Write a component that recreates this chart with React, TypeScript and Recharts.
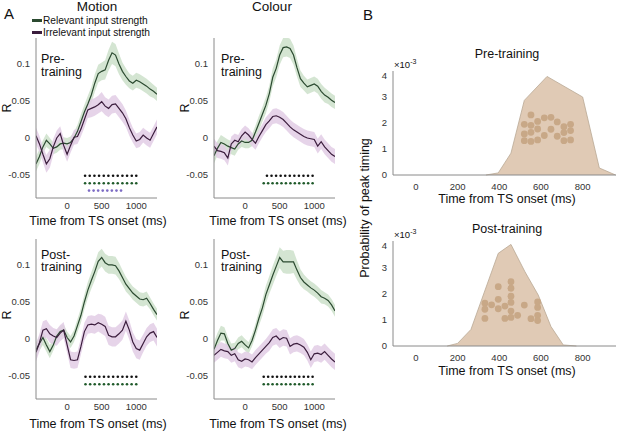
import React from 'react';
import { ComposedChart, Line, Area, Scatter, XAxis, YAxis } from 'recharts';

// time axis shared by the four correlation panels (ms from TS onset)
const times = [-450, -400, -350, -300, -250, -200, -150, -100, -50, 0, 50, 100, 150, 200, 250, 300, 350, 400, 450, 500, 550, 600, 650, 700, 750, 800, 850, 900, 950, 1000, 1050, 1100, 1150, 1200, 1250, 1300];

const motionPreRel = [-0.035, -0.025, -0.012, -0.003, -0.008, -0.014, -0.012, -0.008, -0.007, -0.008, -0.006, 0.0, 0.009, 0.022, 0.035, 0.046, 0.058, 0.074, 0.087, 0.09, 0.092, 0.105, 0.115, 0.112, 0.1, 0.09, 0.083, 0.077, 0.074, 0.078, 0.076, 0.073, 0.07, 0.066, 0.063, 0.059];
const motionPreRelSem = [0.01, 0.01, 0.009, 0.009, 0.008, 0.008, 0.008, 0.008, 0.008, 0.008, 0.008, 0.008, 0.009, 0.01, 0.01, 0.011, 0.011, 0.012, 0.012, 0.012, 0.013, 0.014, 0.015, 0.015, 0.014, 0.012, 0.011, 0.01, 0.01, 0.01, 0.01, 0.01, 0.01, 0.01, 0.009, 0.009];
const motionPreIrr = [0.003, -0.008, -0.022, -0.035, -0.028, -0.012, 0.0, 0.006, -0.01, -0.022, -0.01, 0.001, 0.002, 0.012, 0.025, 0.038, 0.04, 0.042, 0.045, 0.049, 0.043, 0.04, 0.045, 0.046, 0.04, 0.034, 0.026, 0.014, 0.004, -0.004, -0.002, 0.004, 0.0, -0.003, 0.006, 0.015];
const motionPreIrrSem = [0.011, 0.011, 0.011, 0.012, 0.012, 0.011, 0.01, 0.01, 0.01, 0.01, 0.01, 0.01, 0.01, 0.01, 0.011, 0.011, 0.012, 0.012, 0.012, 0.013, 0.012, 0.012, 0.012, 0.012, 0.012, 0.012, 0.011, 0.011, 0.01, 0.01, 0.01, 0.01, 0.01, 0.01, 0.01, 0.01];

const colourPreRel = [-0.024, -0.014, -0.006, -0.008, -0.011, -0.013, -0.015, -0.008, -0.004, -0.006, -0.006, -0.003, 0.008, 0.02, 0.032, 0.044, 0.06, 0.082, 0.094, 0.112, 0.122, 0.123, 0.121, 0.112, 0.095, 0.08, 0.074, 0.069, 0.071, 0.073, 0.07, 0.063, 0.058, 0.055, 0.051, 0.048];
const colourPreRelSem = [0.01, 0.01, 0.01, 0.009, 0.009, 0.009, 0.009, 0.008, 0.008, 0.008, 0.008, 0.008, 0.009, 0.01, 0.01, 0.011, 0.011, 0.012, 0.012, 0.013, 0.013, 0.013, 0.013, 0.013, 0.012, 0.011, 0.01, 0.01, 0.01, 0.01, 0.01, 0.01, 0.01, 0.009, 0.009, 0.009];
const colourPreIrr = [-0.011, -0.017, -0.018, -0.02, -0.027, -0.008, -0.003, -0.005, 0.003, 0.008, 0.004, -0.002, -0.007, 0.002, 0.01, 0.018, 0.023, 0.029, 0.03, 0.028, 0.025, 0.02, 0.015, 0.011, 0.008, 0.005, 0.002, 0.0, -0.001, -0.002, -0.011, -0.005, -0.012, -0.017, -0.022, -0.025];
const colourPreIrrSem = [0.01, 0.01, 0.01, 0.01, 0.01, 0.01, 0.009, 0.009, 0.009, 0.009, 0.009, 0.009, 0.009, 0.009, 0.009, 0.01, 0.01, 0.01, 0.01, 0.01, 0.01, 0.01, 0.01, 0.01, 0.01, 0.01, 0.01, 0.01, 0.01, 0.01, 0.01, 0.01, 0.01, 0.01, 0.01, 0.01];

const motionPostRel = [-0.015, -0.006, 0.002, -0.008, -0.017, -0.008, 0.004, 0.01, 0.012, 0.002, -0.004, 0.004, 0.018, 0.032, 0.05, 0.066, 0.079, 0.091, 0.105, 0.11, 0.103, 0.1, 0.1, 0.099, 0.092, 0.083, 0.074, 0.068, 0.062, 0.058, 0.054, 0.053, 0.055, 0.048, 0.04, 0.033];
const motionPostRelSem = [0.01, 0.01, 0.01, 0.009, 0.009, 0.008, 0.008, 0.008, 0.008, 0.008, 0.008, 0.008, 0.009, 0.01, 0.01, 0.011, 0.011, 0.012, 0.012, 0.012, 0.012, 0.012, 0.012, 0.012, 0.011, 0.01, 0.01, 0.009, 0.009, 0.009, 0.009, 0.009, 0.009, 0.008, 0.008, 0.008];
const motionPostIrr = [-0.018, -0.005, 0.012, 0.014, 0.007, 0.004, 0.002, 0.008, 0.012, -0.008, -0.028, -0.029, -0.028, -0.01, 0.01, 0.019, 0.02, 0.019, 0.022, 0.02, 0.017, 0.005, 0.003, 0.003, 0.007, 0.012, 0.024, 0.012, -0.004, -0.013, -0.015, -0.006, 0.003, 0.008, 0.01, 0.002];
const motionPostIrrSem = [0.012, 0.012, 0.012, 0.012, 0.012, 0.011, 0.011, 0.011, 0.011, 0.011, 0.011, 0.011, 0.011, 0.011, 0.012, 0.012, 0.012, 0.012, 0.012, 0.013, 0.013, 0.013, 0.013, 0.013, 0.013, 0.013, 0.013, 0.013, 0.013, 0.013, 0.013, 0.012, 0.012, 0.012, 0.012, 0.012];

const colourPostRel = [-0.014, -0.002, 0.008, 0.007, -0.006, -0.015, -0.013, -0.006, -0.003, -0.008, -0.012, -0.002, 0.012, 0.028, 0.042, 0.06, 0.073, 0.086, 0.098, 0.11, 0.104, 0.104, 0.104, 0.104, 0.093, 0.083, 0.077, 0.073, 0.069, 0.066, 0.062, 0.057, 0.055, 0.052, 0.046, 0.038];
const colourPostRelSem = [0.01, 0.01, 0.01, 0.009, 0.009, 0.009, 0.008, 0.008, 0.008, 0.008, 0.008, 0.008, 0.009, 0.01, 0.011, 0.012, 0.012, 0.013, 0.013, 0.014, 0.015, 0.016, 0.016, 0.015, 0.013, 0.011, 0.01, 0.009, 0.009, 0.009, 0.009, 0.009, 0.008, 0.008, 0.008, 0.008];
const colourPostIrr = [-0.022, -0.018, -0.014, -0.016, -0.017, -0.022, -0.02, -0.028, -0.03, -0.027, -0.028, -0.031, -0.025, -0.02, -0.015, -0.01, -0.005, 0.002, 0.004, -0.001, 0.002, 0.001, -0.01, -0.007, -0.006, -0.008, -0.011, -0.018, -0.028, -0.02, -0.019, -0.021, -0.017, -0.022, -0.027, -0.031];
const colourPostIrrSem = [0.01, 0.01, 0.01, 0.01, 0.01, 0.01, 0.01, 0.01, 0.01, 0.01, 0.01, 0.01, 0.01, 0.01, 0.01, 0.01, 0.011, 0.011, 0.011, 0.011, 0.011, 0.011, 0.011, 0.011, 0.011, 0.011, 0.011, 0.011, 0.011, 0.011, 0.011, 0.011, 0.011, 0.011, 0.011, 0.011];

// significant time points (ms)
const motionPreSigBoth = [260, 327, 395, 462, 530, 597, 665, 732, 800, 867, 935, 1000];
const motionPreSigRel = [260, 327, 395, 462, 530, 597, 665, 732, 800, 867, 935, 1000];
const motionPreSigIrr = [317, 383, 449, 515, 581, 647, 714, 780];
const colourPreSigBoth = [316, 382, 448, 514, 580, 646, 712, 778, 844, 910, 976];
const colourPreSigRel = [269, 333, 397, 462, 526, 590, 655, 719, 783, 848, 912, 976];
const motionPostSigBoth = [266, 333, 399, 466, 533, 599, 666, 733, 800, 866, 933, 1000];
const motionPostSigRel = [266, 333, 399, 466, 533, 599, 666, 733, 800, 866, 933, 1000];
const colourPostSigBoth = [269, 333, 397, 462, 526, 590, 655, 719, 783, 848, 912, 976];
const colourPostSigRel = [269, 333, 397, 462, 526, 590, 655, 719, 783, 848, 912, 976];

// panel B: peak timing density (x10^-3) and individual peaks
const preDensityT = [336, 395, 456, 520, 629, 800, 880, 958];
const preDensityV = [0, 0.08, 0.84, 2.87, 3.79, 3.0, 0.27, 0];
const prePeakT = [520, 520, 520, 552, 552, 552, 552, 584, 584, 584, 616, 616, 648, 648, 678, 678, 710, 710, 710, 742, 742, 742];
const prePeakV = [1.95, 1.58, 1.32, 2.31, 1.91, 1.64, 1.29, 2.06, 1.77, 1.35, 2.2, 1.52, 2.22, 1.76, 2.04, 1.49, 1.86, 1.63, 1.32, 1.95, 1.71, 1.35];

const postDensityT = [150, 200, 264, 395, 456, 523, 587, 648, 707, 770];
const postDensityV = [0, 0.1, 0.63, 3.53, 3.87, 2.83, 1.94, 0.74, 0.04, 0];
const postPeakT = [331, 331, 331, 363, 395, 395, 395, 427, 427, 456, 456, 456, 456, 456, 456, 488, 520, 552, 584, 584, 584, 584];
const postPeakV = [1.63, 1.4, 1.05, 1.57, 2.26, 1.78, 1.42, 1.52, 1.05, 2.45, 2.2, 1.9, 1.66, 1.33, 1.09, 1.17, 1.56, 1.04, 1.68, 1.47, 1.17, 0.97];

const aYTicks = [-0.05, 0, 0.05, 0.1];
const aXTicks = [0, 500, 1000];
const bYTicks = [0, 1, 2, 3, 4];
const bXTicks = [0, 200, 400, 600, 800];

const GREEN = '#2b4a30';
const GREEN_BAND = '#cde0ca';
const PURPLE = '#3b1d3d';
const PURPLE_BAND = '#e2cde5';
const AXIS = '#8a8a8a';
const TICK = { fontSize: 9.5, fill: '#333' };

const sigDot = (fill: string) => (p: any) => <circle cx={p.cx} cy={p.cy} r={1.3} fill={fill} />;

type TraceProps = {
  left: number;
  top: number;
  rel: number[];
  relSem: number[];
  irr: number[];
  irrSem: number[];
  sigBoth: number[];
  sigRel: number[];
  sigIrr?: number[];
};

const TracePanel = ({ left, top, rel, relSem, irr, irrSem, sigBoth, sigRel, sigIrr }: TraceProps) => {
  const data = times.map((t, i) => ({
    t,
    rel: rel[i],
    irr: irr[i],
    relBand: [rel[i] - relSem[i], rel[i] + relSem[i]],
    irrBand: [irr[i] - irrSem[i], irr[i] + irrSem[i]],
  }));
  return (
    <div style={{ position: 'absolute', left, top }}>
      <ComposedChart width={151} height={180} data={data} margin={{ top: 0, right: 0, bottom: 0, left: 0 }}>
        <XAxis dataKey="t" type="number" domain={[-450, 1300]} allowDataOverflow ticks={aXTicks}
          height={20} stroke={AXIS} tickLine={false} tickSize={2} tickMargin={2} tick={TICK} />
        <YAxis type="number" domain={[-0.081, 0.135]} allowDataOverflow ticks={aYTicks} width={30}
          stroke={AXIS} tickLine={false} tickSize={3} tickMargin={3} tick={TICK}
          tickFormatter={(v: number) => String(v)} />
        <Area dataKey="relBand" stroke="none" fill={GREEN_BAND} fillOpacity={0.85} isAnimationActive={false} />
        <Area dataKey="irrBand" stroke="none" fill={PURPLE_BAND} fillOpacity={0.85} isAnimationActive={false} />
        <Line dataKey="rel" stroke={GREEN} strokeWidth={1.2} dot={false} isAnimationActive={false} />
        <Line dataKey="irr" stroke={PURPLE} strokeWidth={1.2} dot={false} isAnimationActive={false} />
        <Scatter data={sigBoth.map(t => ({ t, v: -0.051 }))} dataKey="v" shape={sigDot('#111')} isAnimationActive={false} />
        <Scatter data={sigRel.map(t => ({ t, v: -0.061 }))} dataKey="v" shape={sigDot('#1f5a2a')} isAnimationActive={false} />
        {sigIrr && (
          <Scatter data={sigIrr.map(t => ({ t, v: -0.071 }))} dataKey="v" shape={sigDot('#7d6cc4')} isAnimationActive={false} />
        )}
      </ComposedChart>
    </div>
  );
};

const PeakPanel = ({ top, height, densT, densV, peakT, peakV }: {
  top: number; height: number; densT: number[]; densV: number[]; peakT: number[]; peakV: number[];
}) => {
  const dens = densT.map((t, i) => ({ t, d: densV[i] }));
  const peaks = peakT.map((t, i) => ({ t, p: peakV[i] }));
  return (
    <div style={{ position: 'absolute', left: 363, top }}>
      <ComposedChart width={253} height={height + 20} data={dens} margin={{ top: 0, right: 0, bottom: 0, left: 0 }}>
        <XAxis dataKey="t" type="number" domain={[-110, 960]} allowDataOverflow ticks={bXTicks}
          height={20} stroke={AXIS} tickLine={false} tickSize={4} tickMargin={4} tick={TICK} />
        <YAxis type="number" domain={[0, 4]} ticks={bYTicks} width={30}
          stroke={AXIS} tickLine={false} tickSize={3} tickMargin={3} tick={TICK} />
        <Area dataKey="d" type="linear" stroke="#b9a894" strokeWidth={0.8} fill="#e0cab5" fillOpacity={1} isAnimationActive={false} />
        <Scatter data={peaks} dataKey="p" fill="#c8a887" shape={(p: any) => <circle cx={p.cx} cy={p.cy} r={3.4} fill="#c8a887" />} isAnimationActive={false} />
      </ComposedChart>
    </div>
  );
};

const Txt = ({ x, y, size = 12.5, rotate = 0, align = 'center', children }: {
  x: number; y: number; size?: number; rotate?: number; align?: 'center' | 'left'; children: React.ReactNode;
}) => (
  <div style={{
    position: 'absolute', left: x, top: y, fontSize: size, lineHeight: 1, whiteSpace: 'nowrap', color: '#111',
    transform: `translate(${align === 'center' ? '-50%' : '0'}, -50%) rotate(${rotate}deg)`,
  }}>{children}</div>
);

// two-line "Pre-/training" style tag inside a subplot
const Tag = ({ x, y, first }: { x: number; y: number; first: string }) => (
  <div style={{ position: 'absolute', left: x, top: y, fontSize: 12.5, lineHeight: '12.5px', color: '#111', whiteSpace: 'nowrap' }}>
    {first}<br />training
  </div>
);

export default function App() {
  return (
    <div style={{
      position: 'absolute', left: 0, top: 0, width: 617, height: 432, background: '#fff', overflow: 'hidden',
      fontFamily: '"Liberation Sans", Arial, sans-serif',
    }}>
      <TracePanel left={6} top={38} rel={motionPreRel} relSem={motionPreRelSem} irr={motionPreIrr} irrSem={motionPreIrrSem}
        sigBoth={motionPreSigBoth} sigRel={motionPreSigRel} sigIrr={motionPreSigIrr} />
      <TracePanel left={184} top={38} rel={colourPreRel} relSem={colourPreRelSem} irr={colourPreIrr} irrSem={colourPreIrrSem}
        sigBoth={colourPreSigBoth} sigRel={colourPreSigRel} />
      <TracePanel left={6} top={239} rel={motionPostRel} relSem={motionPostRelSem} irr={motionPostIrr} irrSem={motionPostIrrSem}
        sigBoth={motionPostSigBoth} sigRel={motionPostSigRel} />
      <TracePanel left={184} top={239} rel={colourPostRel} relSem={colourPostRelSem} irr={colourPostIrr} irrSem={colourPostIrrSem}
        sigBoth={colourPostSigBoth} sigRel={colourPostSigRel} />

      <PeakPanel top={71} height={104} densT={preDensityT} densV={preDensityV} peakT={prePeakT} peakV={prePeakV} />
      <PeakPanel top={241} height={105} densT={postDensityT} densV={postDensityV} peakT={postPeakT} peakV={postPeakV} />

      {/* panel A annotations */}
      <Txt x={9} y={13} size={15}>A</Txt>
      <Txt x={97} y={7} size={13.5}>Motion</Txt>
      <Txt x={272} y={7} size={13.5}>Colour</Txt>
      <div style={{ position: 'absolute', left: 32, top: 19, width: 10, height: 3, background: GREEN }} />
      <Txt x={43} y={20.7} size={10.2} align="left">Relevant input strength</Txt>
      <div style={{ position: 'absolute', left: 32, top: 31, width: 10, height: 3, background: PURPLE }} />
      <Txt x={43} y={32.5} size={10.2} align="left">Irrelevant input strength</Txt>

      <Tag x={41} y={53} first="Pre-" />
      <Tag x={221} y={53} first="Pre-" />
      <Tag x={41} y={248.5} first="Post-" />
      <Tag x={221} y={248.5} first="Post-" />

      <Txt x={7} y={108} rotate={-90}>R</Txt>
      <Txt x={185} y={108} rotate={-90}>R</Txt>
      <Txt x={7} y={315} rotate={-90}>R</Txt>
      <Txt x={185} y={315} rotate={-90}>R</Txt>

      <Txt x={98} y={221}>Time from TS onset (ms)</Txt>
      <Txt x={278} y={221}>Time from TS onset (ms)</Txt>
      <Txt x={98} y={424}>Time from TS onset (ms)</Txt>
      <Txt x={278} y={424}>Time from TS onset (ms)</Txt>

      {/* panel B annotations */}
      <Txt x={368} y={13.5} size={15}>B</Txt>
      <Txt x={507} y={54}>Pre-training</Txt>
      <Txt x={507} y={229}>Post-training</Txt>
      <Txt x={394} y={64} size={9.5} align="left"><span>×10</span><sup style={{ fontSize: 7 }}>-3</sup></Txt>
      <Txt x={394} y={234} size={9.5} align="left"><span>×10</span><sup style={{ fontSize: 7 }}>-3</sup></Txt>
      <Txt x={507} y={198.5}>Time from TS onset (ms)</Txt>
      <Txt x={507} y={371}>Time from TS onset (ms)</Txt>
      <Txt x={365} y={208} rotate={-90}>Probability of peak timing</Txt>
    </div>
  );
}
